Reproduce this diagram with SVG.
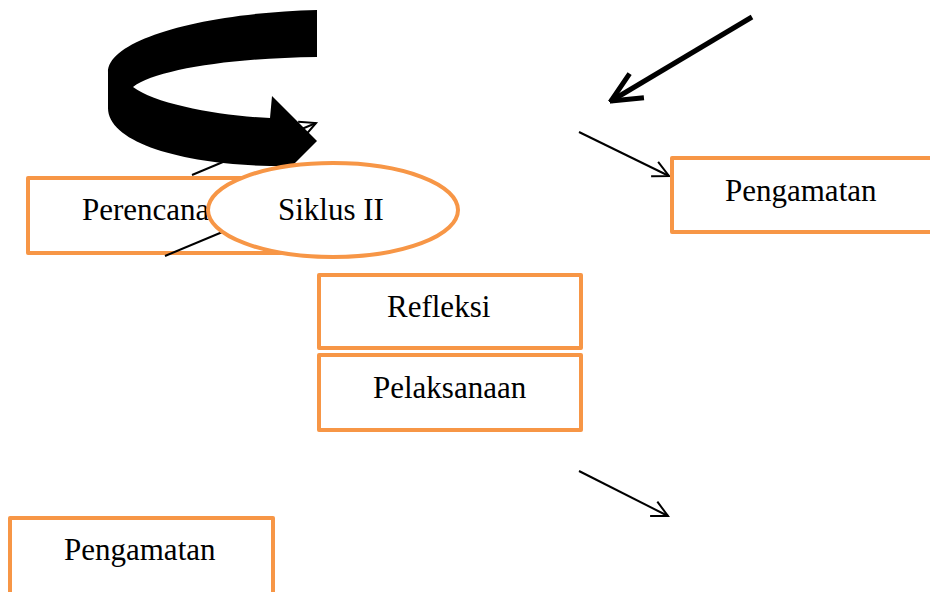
<svg xmlns="http://www.w3.org/2000/svg" width="930" height="592" viewBox="0 0 930 592">
<style>
.box{fill:#fff;stroke:#F79646;stroke-width:4;stroke-linejoin:round}
.lbl{font-family:"Liberation Serif","Times New Roman",serif;font-size:31px;fill:#000}
.thin{stroke:#000;stroke-width:2;fill:none}
</style>
<defs>
<marker id="open" viewBox="0 0 20 20" refX="18" refY="10" markerWidth="20" markerHeight="20" markerUnits="userSpaceOnUse" orient="auto">
<path d="M2,2 L18,10 L2,18" fill="none" stroke="#000" stroke-width="2"/>
</marker>
<marker id="openThick" viewBox="0 0 36 36" refX="34" refY="18" markerWidth="36" markerHeight="36" markerUnits="userSpaceOnUse" orient="auto">
<path d="M4,4 L34,18 L4,32" fill="none" stroke="#000" stroke-width="5"/>
</marker>
</defs>
<g id="perencanaan">
<rect class="box" x="28" y="178" width="262" height="75"/>
<text class="lbl" x="82" y="220">Perencanaan</text>
</g>
<g id="connectors">
<line class="thin" x1="165" y1="256" x2="232" y2="228"/>
<line class="thin" x1="192" y1="175" x2="316" y2="123" marker-end="url(#open)"/>
<path d="M317,10 L317,57 C230,58 155,70 133,87 C155,104 220,116 270,118 L272,96 L317,141 L292,166 L270,166 C180,164 108,142 108,108 L108,72 C108,40 200,13 317,10 Z" fill="#000"/>
<line x1="752" y1="17" x2="611" y2="101" stroke="#000" stroke-width="5" marker-end="url(#openThick)"/>
<line class="thin" x1="579" y1="132" x2="669" y2="176" marker-end="url(#open)"/>
<line class="thin" x1="579" y1="471" x2="668" y2="516" marker-end="url(#open)"/>
</g>
<g id="siklus">
<ellipse cx="333" cy="210" rx="125" ry="47" fill="#fff" stroke="#F79646" stroke-width="4"/>
<text class="lbl" x="278" y="220">Siklus II</text>
</g>
<g id="refleksi">
<rect class="box" x="319" y="275" width="262" height="73"/>
<text class="lbl" x="387" y="317">Refleksi</text>
</g>
<g id="pelaksanaan">
<rect class="box" x="319" y="355" width="262" height="75"/>
<text class="lbl" x="373" y="398">Pelaksanaan</text>
</g>
<g id="pengamatan1">
<rect class="box" x="672" y="158" width="300" height="74"/>
<text class="lbl" x="725" y="201">Pengamatan</text>
</g>
<g id="pengamatan2">
<rect class="box" x="10" y="518" width="263" height="90"/>
<text class="lbl" x="64" y="560">Pengamatan</text>
</g>
</svg>
